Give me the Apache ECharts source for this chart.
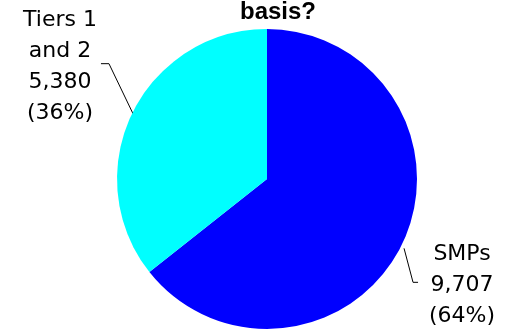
<!DOCTYPE html>
<html>
<head>
<meta charset="utf-8">
<script src="https://cdn.jsdelivr.net/npm/echarts@6/dist/echarts.min.js"></script>
<style>
  html, body { margin: 0; padding: 0; background: #fff; }
  #chart { width: 508px; height: 333px; }
</style>
</head>
<body>
<div id="chart"></div>
<script>
// 数据
const categories = ["SMPs", "Tiers 1\nand 2"];
const values = [9707, 5380];
const colors = ["#0000FF", "#00FFFF"];

const total = values.reduce((a, b) => a + b, 0);
const pieData = categories.map((name, i) => ({
  name: name,
  value: values[i],
  itemStyle: { color: colors[i] }
}));

const chart = echarts.init(document.getElementById("chart"));
chart.setOption({
  animation: false,
  title: {
    text: "basis?",
    left: 240,
    top: 0,
    padding: 0,
    textStyle: { fontFamily: "Liberation Sans", fontWeight: "bold", fontSize: 24, color: "#000" }
  },
  series: [
    {
      type: "pie",
      center: [267, 179],
      radius: [0, 150],
      startAngle: 90,
      clockwise: true,
      data: pieData,
      label: {
        show: true,
        position: "outside",
        fontFamily: "DejaVu Sans",
        fontSize: 22,
        lineHeight: 31,
        color: "#000",
        align: "center",
        overflow: "none",
        width: 90,
        formatter: function (p) {
          const pct = Math.round((p.value / total) * 100);
          return p.name + "\n" + p.value.toLocaleString("en-US") + "\n(" + pct + "%)";
        }
      },
      labelLine: {
        show: true,
        length: 30,
        length2: 8,
        lineStyle: { color: "#000", width: 1 }
      },
      // 标签位置：从扇区中点的外缘偏移
      labelLayout: function (params) {
        const pts = params.labelLinePoints;
        if (!pts) return {};
        const s = pts[0];
        if (s[0] > 267) {
          const start = [s[0] + 2, s[1] + 4];
          const bend = [start[0] + 9, start[1] + 34];
          const end = [bend[0] + 5, bend[1]];
          return {
            x: end[0] + 44,
            y: end[1] + 3,
            align: "center",
            verticalAlign: "middle",
            labelLinePoints: [start, bend, end]
          };
        } else {
          const start = [s[0] + 2, s[1] + 2];
          const bend = [start[0] - 25, start[1] - 52];
          const end = [bend[0] - 8, bend[1]];
          return {
            x: end[0] - 41,
            y: end[1] + 3,
            align: "center",
            verticalAlign: "middle",
            labelLinePoints: [start, bend, end]
          };
        }
      }
    }
  ]
});
</script>
</body>
</html>
